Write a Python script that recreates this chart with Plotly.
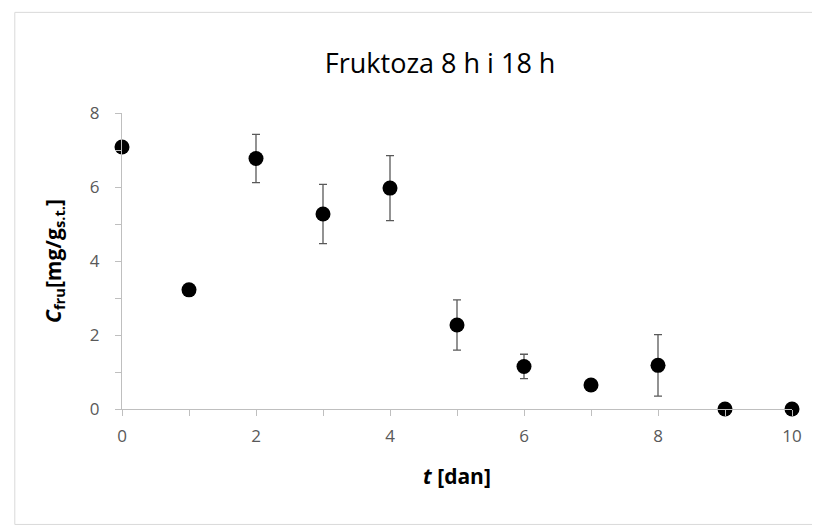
import plotly.graph_objects as go

# dni i stezenje fruktoze
t_dan = [0, 1, 2, 3, 4, 5, 6, 7, 8, 9, 10]
c_fru = [7.08, 3.22, 6.77, 5.27, 5.97, 2.27, 1.15, 0.65, 1.18, 0.0, 0.0]
c_err = [0, 0, 0.65, 0.8, 0.88, 0.68, 0.33, 0.1, 0.83, 0, 0]

fig = go.Figure()
fig.add_trace(go.Scatter(
    x=t_dan, y=c_fru, mode='markers',
    marker=dict(color='black', size=15),
    error_y=dict(type='data', array=c_err, visible=True,
                 color='#595959', thickness=1.3, width=4),
    cliponaxis=False,
))

axis_font = dict(family='Open Sans, Liberation Sans', size=17, color='#595959')
fig.update_layout(
    width=820, height=527,
    margin=dict(l=114, r=36, t=105, b=126, autoexpand=False),
    paper_bgcolor='white', plot_bgcolor='white',
    showlegend=False,
    title=dict(text='Fruktoza 8 h i 18 h', x=0.527, xanchor='center', y=0.895, yanchor='middle',
               font=dict(family='Open Sans, Liberation Sans', size=27, color='black')),
    xaxis=dict(range=[0, 10], tickvals=[0, 2, 4, 6, 8, 10], showgrid=False, zeroline=False,
               automargin=False,
               showline=True, linecolor='#BFBFBF', linewidth=1,
               ticks='outside', ticklen=6, tickcolor='#BFBFBF', ticklabelstandoff=6,
               minor=dict(dtick=1, ticks='outside', ticklen=6, tickcolor='#BFBFBF'),
               tickfont=axis_font,
               title=dict(text='<b><i>t</i> [dan]</b>', standoff=22,
                          font=dict(family='Open Sans, Liberation Sans', size=21, color='black'))),
    yaxis=dict(range=[0, 8], tickvals=[0, 2, 4, 6, 8], showgrid=False, zeroline=False,
               automargin=False,
               showline=True, linecolor='#BFBFBF', linewidth=1,
               ticks='outside', ticklen=6, tickcolor='#BFBFBF', ticklabelstandoff=12,
               minor=dict(dtick=1, ticks='outside', ticklen=6, tickcolor='#BFBFBF'),
               tickfont=axis_font,
               title=dict(text='<b><i>C</i><sub>fru</sub>[mg/g<sub>s.t.</sub>]</b>', standoff=22,
                          font=dict(family='Open Sans, Liberation Sans', size=21, color='black'))),
    shapes=[dict(type='rect', xref='paper', yref='paper', x0=-0.16, x1=1.04, y0=-0.39, y1=1.34,
                 line=dict(color='#D9D9D9', width=1))],
)

fig.write_html("out.html")
